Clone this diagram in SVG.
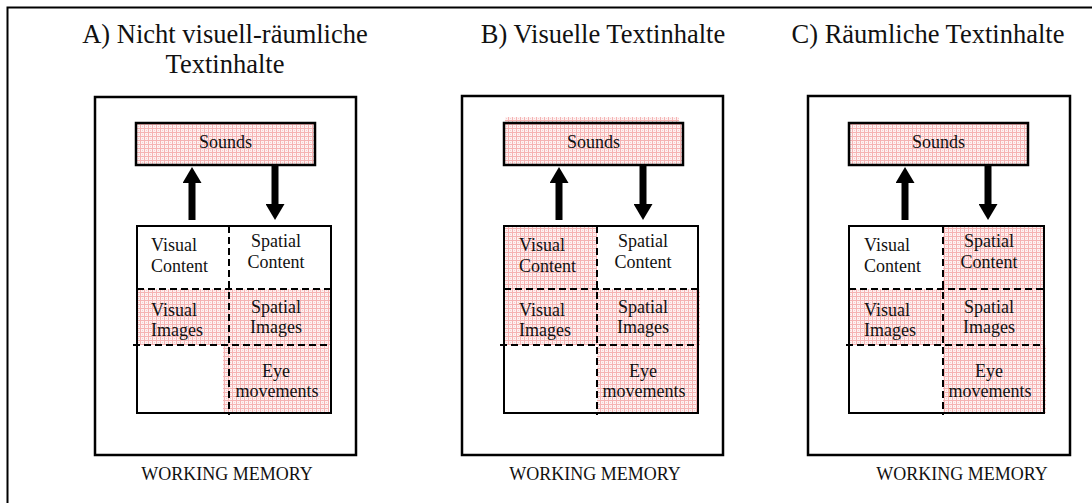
<svg xmlns="http://www.w3.org/2000/svg" width="1092" height="503" viewBox="0 0 1092 503">
<style>
text{font-family:"Liberation Serif","Times New Roman",serif;fill:#111}
.title{font-size:26.5px;text-anchor:middle}
.lbl{font-size:18px}
.c{text-anchor:middle}
.wm{font-size:18px;text-anchor:middle}
.panel{fill:#fff;stroke:#000;stroke-width:2.5}
.snd{fill:url(#dots);stroke:#000;stroke-width:2.5}
.grid{fill:none;stroke:#000;stroke-width:2}
.dash{fill:none;stroke:#000;stroke-width:2;stroke-dasharray:7 4}
.pink{fill:url(#dots)}
.arr{stroke:#000;stroke-width:7;fill:none;marker-end:url(#head)}
</style>
<defs>
<pattern id="dots" width="4" height="4" patternUnits="userSpaceOnUse">
<rect width="4" height="4" fill="#fdf2f2"/>
<rect x="0" y="0" width="4" height="1" fill="#f5b3b3"/>
<rect x="0" y="0" width="1" height="4" fill="#f5b3b3"/>
<rect x="2" y="2" width="1" height="1" fill="#f8cccc"/>
</pattern>
<marker id="head" markerUnits="userSpaceOnUse" markerWidth="16" markerHeight="19" viewBox="0 0 16 19" refX="0" refY="9.5" orient="auto">
<path d="M0,0 L16,9.5 L0,19 z" fill="#000"/>
</marker>
</defs>
<rect width="1092" height="503" fill="#fff"/>
<path d="M7.5,503 V7.5 H1092" fill="none" stroke="#000" stroke-width="2"/>

<g id="titles">
<text class="title" x="225" y="43">A) Nicht visuell-räumliche</text>
<text class="title" x="225" y="73">Textinhalte</text>
<text class="title" x="603" y="43">B) Visuelle Textinhalte</text>
<text class="title" x="928" y="43">C) Räumliche Textinhalte</text>
</g>

<!-- Panel A -->
<g id="panelA">
<rect class="panel" x="95" y="97" width="261" height="358"/>
<g id="A-sounds"><rect class="snd" x="136" y="123" width="179" height="42"/><text class="lbl c" x="225.5" y="148">Sounds</text></g>
<g id="A-grid">
<rect class="pink" x="137" y="289" width="92" height="56"/>
<rect class="pink" x="229" y="289" width="103" height="56"/>
<rect class="pink" x="223" y="345" width="106" height="67"/>
<rect class="grid" x="137" y="226" width="194" height="187"/>
<line class="dash" x1="229" y1="226" x2="229" y2="415"/>
<line class="dash" x1="137" y1="289" x2="331" y2="289"/>
<line class="dash" x1="133" y1="345" x2="331" y2="345"/>
</g>
<g id="A-visual-content"><text class="lbl" x="151" y="250.5">Visual</text><text class="lbl" x="151" y="271.5">Content</text></g>
<g id="A-spatial-content"><text class="lbl c" x="276" y="247">Spatial</text><text class="lbl c" x="276" y="268">Content</text></g>
<g id="A-visual-images"><text class="lbl" x="151" y="315.5">Visual</text><text class="lbl" x="151" y="335.5">Images</text></g>
<g id="A-spatial-images"><text class="lbl c" x="276" y="313">Spatial</text><text class="lbl c" x="276" y="333">Images</text></g>
<g id="A-eye"><text class="lbl c" x="276" y="377">Eye</text><text class="lbl c" x="277" y="397">movements</text></g>
<text class="wm" x="227" y="480">WORKING MEMORY</text>
</g>

<!-- Panel B -->
<g id="panelB">
<rect class="panel" x="462" y="96" width="261" height="359"/>
<g id="B-sounds"><rect class="pink" x="505" y="117" width="174" height="6"/><rect class="snd" x="504" y="123" width="179" height="42"/><text class="lbl c" x="593.5" y="148">Sounds</text></g>
<g id="B-grid">
<rect class="pink" x="504" y="226" width="93" height="63"/>
<rect class="pink" x="504" y="289" width="93" height="56"/>
<rect class="pink" x="597" y="289" width="103" height="56"/>
<rect class="pink" x="597" y="345" width="102" height="68"/>
<rect class="grid" x="504" y="226" width="194" height="187"/>
<line class="dash" x1="597" y1="226" x2="597" y2="415"/>
<line class="dash" x1="504" y1="289" x2="698" y2="289"/>
<line class="dash" x1="500" y1="345" x2="698" y2="345"/>
</g>
<g id="B-visual-content"><text class="lbl" x="519" y="250.5">Visual</text><text class="lbl" x="519" y="271.5">Content</text></g>
<g id="B-spatial-content"><text class="lbl c" x="643" y="247">Spatial</text><text class="lbl c" x="643" y="268">Content</text></g>
<g id="B-visual-images"><text class="lbl" x="519" y="315.5">Visual</text><text class="lbl" x="519" y="335.5">Images</text></g>
<g id="B-spatial-images"><text class="lbl c" x="643" y="313">Spatial</text><text class="lbl c" x="643" y="333">Images</text></g>
<g id="B-eye"><text class="lbl c" x="643" y="377">Eye</text><text class="lbl c" x="644" y="397">movements</text></g>
<text class="wm" x="595" y="480">WORKING MEMORY</text>
</g>

<!-- Panel C -->
<g id="panelC">
<rect class="panel" x="808" y="96" width="262" height="359"/>
<g id="C-sounds"><rect class="snd" x="849" y="123" width="179" height="42"/><text class="lbl c" x="938.5" y="148">Sounds</text></g>
<g id="C-grid">
<rect class="pink" x="943" y="227" width="101" height="62"/>
<rect class="pink" x="849" y="289" width="94" height="56"/>
<rect class="pink" x="943" y="289" width="101" height="56"/>
<rect class="pink" x="943" y="345" width="103" height="68"/>
<rect class="grid" x="849" y="226" width="195" height="187"/>
<line class="dash" x1="943" y1="226" x2="943" y2="415"/>
<line class="dash" x1="849" y1="289" x2="1044" y2="289"/>
<line class="dash" x1="846" y1="345" x2="1044" y2="345"/>
</g>
<g id="C-visual-content"><text class="lbl" x="864" y="250.5">Visual</text><text class="lbl" x="864" y="271.5">Content</text></g>
<g id="C-spatial-content"><text class="lbl c" x="989" y="247">Spatial</text><text class="lbl c" x="989" y="268">Content</text></g>
<g id="C-visual-images"><text class="lbl" x="864" y="315.5">Visual</text><text class="lbl" x="864" y="335.5">Images</text></g>
<g id="C-spatial-images"><text class="lbl c" x="989" y="313">Spatial</text><text class="lbl c" x="989" y="333">Images</text></g>
<g id="C-eye"><text class="lbl c" x="989" y="377">Eye</text><text class="lbl c" x="990" y="397">movements</text></g>
<text class="wm" x="962" y="480">WORKING MEMORY</text>
</g>

<g id="connectors">
<line class="arr" x1="192" y1="220" x2="192" y2="183"/>
<line class="arr" x1="275" y1="165" x2="275" y2="204"/>
<line class="arr" x1="559" y1="220" x2="559" y2="183"/>
<line class="arr" x1="643" y1="165" x2="643" y2="204"/>
<line class="arr" x1="905" y1="220" x2="905" y2="183"/>
<line class="arr" x1="988" y1="165" x2="988" y2="204"/>
</g>
</svg>
